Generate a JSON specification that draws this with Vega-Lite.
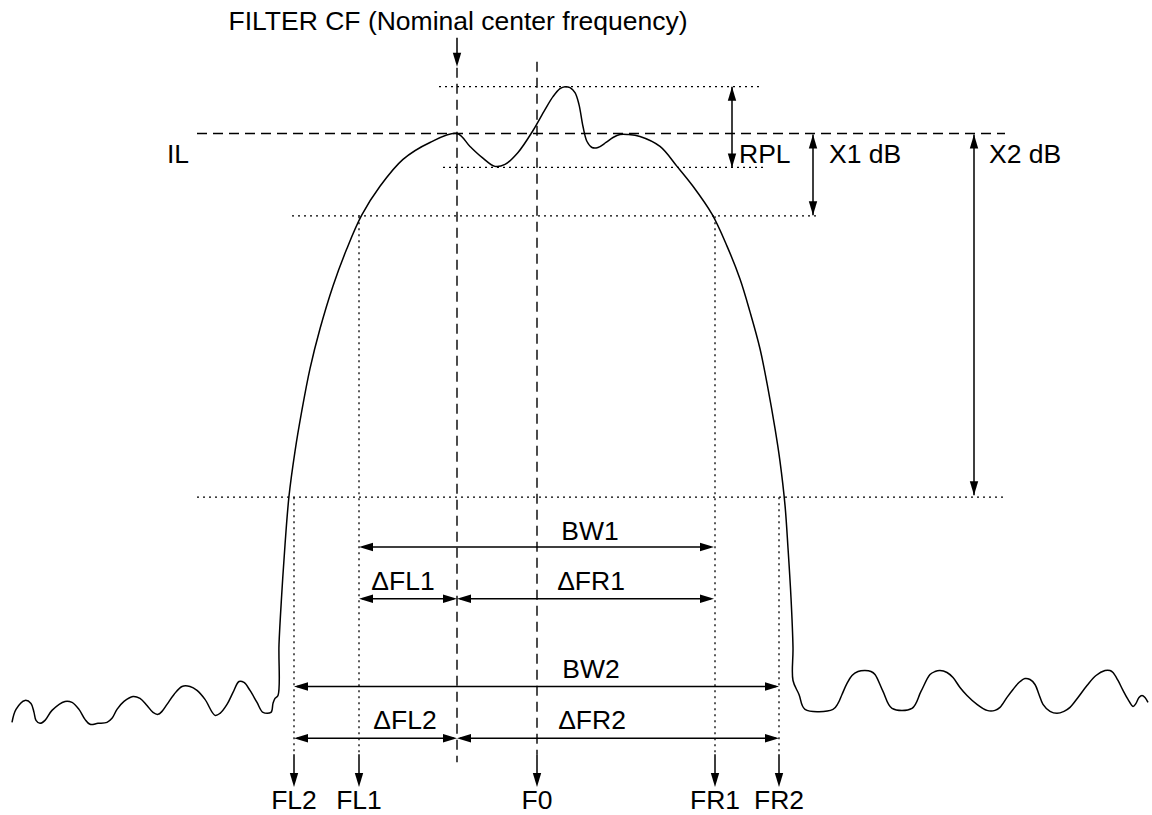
{
  "$schema": "https://vega.github.io/schema/vega-lite/v6.json",
  "width": 1152,
  "height": 815,
  "autosize": {"type": "fit", "contains": "padding"},
  "padding": 0,
  "background": "white",
  "config": {"view": {"stroke": null}, "text": {"font": "Liberation Sans", "color": "black"}},
  "datasets": {
    "curve": [
      {"i": 1, "x": 12, "y": 725}, {"i": 2, "x": 16, "y": 712}, {"i": 3, "x": 25, "y": 703}, {"i": 4, "x": 31, "y": 706},
      {"i": 5, "x": 34, "y": 715}, {"i": 6, "x": 36, "y": 723}, {"i": 7, "x": 40, "y": 726}, {"i": 8, "x": 45, "y": 723},
      {"i": 9, "x": 52, "y": 713}, {"i": 10, "x": 65, "y": 704}, {"i": 11, "x": 72, "y": 705}, {"i": 12, "x": 79, "y": 712},
      {"i": 13, "x": 85, "y": 722}, {"i": 14, "x": 90, "y": 727}, {"i": 15, "x": 98, "y": 726}, {"i": 16, "x": 107, "y": 725},
      {"i": 17, "x": 112, "y": 721}, {"i": 18, "x": 117, "y": 712}, {"i": 19, "x": 124, "y": 704}, {"i": 20, "x": 133, "y": 699},
      {"i": 21, "x": 140, "y": 701}, {"i": 22, "x": 147, "y": 708}, {"i": 23, "x": 153, "y": 715}, {"i": 24, "x": 158, "y": 717},
      {"i": 25, "x": 162, "y": 714}, {"i": 26, "x": 167, "y": 707}, {"i": 27, "x": 174, "y": 697}, {"i": 28, "x": 182, "y": 689},
      {"i": 29, "x": 190, "y": 689}, {"i": 30, "x": 197, "y": 693}, {"i": 31, "x": 205, "y": 702}, {"i": 32, "x": 215, "y": 718},
      {"i": 33, "x": 220, "y": 716}, {"i": 34, "x": 227, "y": 707}, {"i": 35, "x": 233, "y": 695}, {"i": 36, "x": 239, "y": 684},
      {"i": 37, "x": 244, "y": 685}, {"i": 38, "x": 250, "y": 693}, {"i": 39, "x": 257, "y": 705}, {"i": 40, "x": 263, "y": 715},
      {"i": 41, "x": 271, "y": 715}, {"i": 42, "x": 273, "y": 706}, {"i": 43, "x": 275, "y": 701}, {"i": 44, "x": 278, "y": 698},
      {"i": 45, "x": 279, "y": 647}, {"i": 46, "x": 281.7, "y": 597}, {"i": 47, "x": 285, "y": 547}, {"i": 48, "x": 289, "y": 498},
      {"i": 49, "x": 295, "y": 453}, {"i": 50, "x": 301.7, "y": 413}, {"i": 51, "x": 310, "y": 370}, {"i": 52, "x": 320, "y": 330},
      {"i": 53, "x": 333, "y": 287}, {"i": 54, "x": 346.7, "y": 250}, {"i": 55, "x": 361.7, "y": 216}, {"i": 56, "x": 380, "y": 187},
      {"i": 57, "x": 403, "y": 160}, {"i": 58, "x": 430, "y": 143}, {"i": 59, "x": 457, "y": 134},
      {"i": 60, "x": 470, "y": 147}, {"i": 61, "x": 482, "y": 158}, {"i": 62, "x": 495, "y": 167}, {"i": 63, "x": 505, "y": 165},
      {"i": 64, "x": 518, "y": 153}, {"i": 65, "x": 533, "y": 131}, {"i": 66, "x": 545, "y": 110}, {"i": 67, "x": 553, "y": 97},
      {"i": 68, "x": 560, "y": 89}, {"i": 69, "x": 565, "y": 87}, {"i": 70, "x": 570, "y": 88}, {"i": 71, "x": 575, "y": 93},
      {"i": 72, "x": 579, "y": 105}, {"i": 73, "x": 583, "y": 127}, {"i": 74, "x": 587, "y": 142}, {"i": 75, "x": 592, "y": 148},
      {"i": 76, "x": 598, "y": 148}, {"i": 77, "x": 606, "y": 143}, {"i": 78, "x": 613, "y": 138}, {"i": 79, "x": 620, "y": 135},
      {"i": 80, "x": 628, "y": 135}, {"i": 81, "x": 640, "y": 137}, {"i": 82, "x": 660, "y": 147}, {"i": 83, "x": 677, "y": 167},
      {"i": 84, "x": 693, "y": 187}, {"i": 85, "x": 712, "y": 215}, {"i": 86, "x": 727, "y": 247}, {"i": 87, "x": 740, "y": 280},
      {"i": 88, "x": 750, "y": 313}, {"i": 89, "x": 760, "y": 350}, {"i": 90, "x": 768, "y": 390}, {"i": 91, "x": 775, "y": 430},
      {"i": 92, "x": 780, "y": 463}, {"i": 93, "x": 785, "y": 507}, {"i": 94, "x": 788, "y": 550}, {"i": 95, "x": 791, "y": 600},
      {"i": 96, "x": 793, "y": 650}, {"i": 97, "x": 793, "y": 683}, {"i": 98, "x": 799, "y": 697}, {"i": 99, "x": 805, "y": 712},
      {"i": 100, "x": 833, "y": 712}, {"i": 101, "x": 838, "y": 706}, {"i": 102, "x": 842, "y": 697}, {"i": 103, "x": 847, "y": 686},
      {"i": 104, "x": 852, "y": 678}, {"i": 105, "x": 858, "y": 674}, {"i": 106, "x": 865, "y": 673}, {"i": 107, "x": 871, "y": 674},
      {"i": 108, "x": 875, "y": 677}, {"i": 109, "x": 883, "y": 694}, {"i": 110, "x": 892, "y": 711}, {"i": 111, "x": 912, "y": 711},
      {"i": 112, "x": 921, "y": 694}, {"i": 113, "x": 930, "y": 677}, {"i": 114, "x": 935, "y": 674}, {"i": 115, "x": 940, "y": 673},
      {"i": 116, "x": 947, "y": 675}, {"i": 117, "x": 953, "y": 680}, {"i": 118, "x": 960, "y": 690}, {"i": 119, "x": 967, "y": 698},
      {"i": 120, "x": 977, "y": 707}, {"i": 121, "x": 987, "y": 713}, {"i": 122, "x": 995, "y": 713}, {"i": 123, "x": 1000, "y": 710},
      {"i": 124, "x": 1007, "y": 700}, {"i": 125, "x": 1013, "y": 692}, {"i": 126, "x": 1019, "y": 685}, {"i": 127, "x": 1025, "y": 681},
      {"i": 128, "x": 1030, "y": 682}, {"i": 129, "x": 1035, "y": 687}, {"i": 130, "x": 1039, "y": 697}, {"i": 131, "x": 1043, "y": 707},
      {"i": 132, "x": 1050, "y": 714}, {"i": 133, "x": 1057, "y": 716}, {"i": 134, "x": 1064, "y": 714}, {"i": 135, "x": 1070, "y": 710},
      {"i": 136, "x": 1078, "y": 700}, {"i": 137, "x": 1087, "y": 688}, {"i": 138, "x": 1096, "y": 678}, {"i": 139, "x": 1105, "y": 673},
      {"i": 140, "x": 1110, "y": 673}, {"i": 141, "x": 1113, "y": 675}, {"i": 142, "x": 1118, "y": 683}, {"i": 143, "x": 1123, "y": 693},
      {"i": 144, "x": 1128, "y": 702}, {"i": 145, "x": 1133, "y": 709}, {"i": 146, "x": 1136, "y": 706}, {"i": 147, "x": 1139, "y": 700},
      {"i": 148, "x": 1142, "y": 698}, {"i": 149, "x": 1145, "y": 700}, {"i": 150, "x": 1148, "y": 705}
    ],
    "segments": [
      {"name": "IL level", "style": "dashed", "x": 197, "y": 134, "x2": 1005, "y2": 134},
      {"name": "FILTER CF", "style": "dashed", "x": 457, "y": 68, "x2": 457, "y2": 765},
      {"name": "F0", "style": "dashed", "x": 537, "y": 62, "x2": 537, "y2": 757},
      {"name": "ripple max", "style": "dotted", "x": 439, "y": 87, "x2": 760, "y2": 87},
      {"name": "ripple min", "style": "dotted", "x": 443, "y": 168, "x2": 763, "y2": 168},
      {"name": "X1 level", "style": "dotted", "x": 292, "y": 216.7, "x2": 820, "y2": 216.7},
      {"name": "X2 level", "style": "dotted", "x": 197, "y": 499, "x2": 1005, "y2": 499},
      {"name": "FL1", "style": "dotted", "x": 359, "y": 217, "x2": 359, "y2": 757},
      {"name": "FR1", "style": "dotted", "x": 715, "y": 217, "x2": 715, "y2": 757},
      {"name": "FL2", "style": "dotted", "x": 294, "y": 499, "x2": 294, "y2": 757},
      {"name": "FR2", "style": "dotted", "x": 779, "y": 499, "x2": 779, "y2": 757},
      {"name": "CF arrow", "style": "solid", "x": 457, "y": 38, "x2": 457, "y2": 60},
      {"name": "RPL", "style": "solid", "x": 732, "y": 87, "x2": 732, "y2": 168},
      {"name": "X1 dB", "style": "solid", "x": 813, "y": 135, "x2": 813, "y2": 216},
      {"name": "X2 dB", "style": "solid", "x": 974, "y": 135, "x2": 974, "y2": 497},
      {"name": "BW1", "style": "solid", "x": 362, "y": 549, "x2": 711, "y2": 549},
      {"name": "dFL1", "style": "solid", "x": 362, "y": 601, "x2": 454, "y2": 601},
      {"name": "dFR1", "style": "solid", "x": 460, "y": 601, "x2": 711, "y2": 601},
      {"name": "BW2", "style": "solid", "x": 297, "y": 689, "x2": 776, "y2": 689},
      {"name": "dFL2", "style": "solid", "x": 297, "y": 741, "x2": 454, "y2": 741},
      {"name": "dFR2", "style": "solid", "x": 460, "y": 741, "x2": 776, "y2": 741},
      {"name": "FL2 mark", "style": "solid", "x": 294, "y": 757, "x2": 294, "y2": 784},
      {"name": "FL1 mark", "style": "solid", "x": 359, "y": 757, "x2": 359, "y2": 784},
      {"name": "F0 mark", "style": "solid", "x": 537, "y": 757, "x2": 537, "y2": 784},
      {"name": "FR1 mark", "style": "solid", "x": 715, "y": 757, "x2": 715, "y2": 784},
      {"name": "FR2 mark", "style": "solid", "x": 779, "y": 757, "x2": 779, "y2": 784}
    ],
    "heads": [
      {"x": 457, "y": 67, "dir": "down"},
      {"x": 732, "y": 87, "dir": "up"}, {"x": 732, "y": 168, "dir": "down"},
      {"x": 813, "y": 135, "dir": "up"}, {"x": 813, "y": 216, "dir": "down"},
      {"x": 974, "y": 135, "dir": "up"}, {"x": 974, "y": 497, "dir": "down"},
      {"x": 359, "y": 549, "dir": "left"}, {"x": 714, "y": 549, "dir": "right"},
      {"x": 359, "y": 601, "dir": "left"}, {"x": 457, "y": 601, "dir": "right"},
      {"x": 457, "y": 601, "dir": "left"}, {"x": 714, "y": 601, "dir": "right"},
      {"x": 294, "y": 689, "dir": "left"}, {"x": 779, "y": 689, "dir": "right"},
      {"x": 294, "y": 741, "dir": "left"}, {"x": 457, "y": 741, "dir": "right"},
      {"x": 457, "y": 741, "dir": "left"}, {"x": 779, "y": 741, "dir": "right"},
      {"x": 294, "y": 790, "dir": "down"}, {"x": 359, "y": 790, "dir": "down"},
      {"x": 537, "y": 790, "dir": "down"}, {"x": 715, "y": 790, "dir": "down"},
      {"x": 779, "y": 790, "dir": "down"}
    ],
    "labels": [
      {"text": "IL", "x": 167, "y": 164, "anchor": "left"},
      {"text": "RPL", "x": 739, "y": 164, "anchor": "left"},
      {"text": "X1 dB", "x": 829, "y": 164, "anchor": "left"},
      {"text": "X2 dB", "x": 989, "y": 164, "anchor": "left"},
      {"text": "BW1", "x": 590, "y": 542, "anchor": "center"},
      {"text": "ΔFL1", "x": 403, "y": 592, "anchor": "center"},
      {"text": "ΔFR1", "x": 591, "y": 592, "anchor": "center"},
      {"text": "BW2", "x": 591, "y": 681, "anchor": "center"},
      {"text": "ΔFL2", "x": 405, "y": 732, "anchor": "center"},
      {"text": "ΔFR2", "x": 592, "y": 732, "anchor": "center"},
      {"text": "FL2", "x": 294, "y": 812, "anchor": "center"},
      {"text": "FL1", "x": 359, "y": 812, "anchor": "center"},
      {"text": "F0", "x": 537, "y": 812, "anchor": "center"},
      {"text": "FR1", "x": 715, "y": 812, "anchor": "center"},
      {"text": "FR2", "x": 779, "y": 812, "anchor": "center"},
      {"text": "FILTER CF (Nominal center frequency)", "x": 458, "y": 30, "anchor": "title"}
    ]
  },
  "layer": [
    {
      "data": {"name": "segments"},
      "mark": {"type": "rule", "color": "black", "strokeCap": "butt"},
      "encoding": {
        "x": {"field": "x", "type": "quantitative", "scale": {"domain": [0, 1152], "nice": false, "zero": false}, "axis": null},
        "y": {"field": "y", "type": "quantitative", "scale": {"domain": [0, 815], "nice": false, "zero": false, "reverse": true}, "axis": null},
        "x2": {"field": "x2"},
        "y2": {"field": "y2"},
        "strokeDash": {"field": "style", "type": "nominal", "scale": {"domain": ["solid", "dashed", "dotted"], "range": [[1, 0], [10, 6], [2, 4]]}, "legend": null},
        "strokeWidth": {"field": "style", "type": "nominal", "scale": {"domain": ["solid", "dashed", "dotted"], "range": [1.5, 1.3, 1.6]}, "legend": null}
      }
    },
    {
      "data": {"name": "curve"},
      "mark": {"type": "line", "color": "black", "strokeWidth": 1.5, "interpolate": "catmull-rom"},
      "encoding": {
        "x": {"field": "x", "type": "quantitative", "scale": {"domain": [0, 1152], "nice": false, "zero": false}, "axis": null},
        "y": {"field": "y", "type": "quantitative", "scale": {"domain": [0, 815], "nice": false, "zero": false, "reverse": true}, "axis": null},
        "order": {"field": "i", "type": "quantitative"}
      }
    },
    {
      "data": {"name": "heads"},
      "mark": {"type": "point", "filled": true, "color": "black", "size": 196, "opacity": 1, "strokeWidth": 0},
      "encoding": {
        "x": {"field": "x", "type": "quantitative", "scale": {"domain": [0, 1152], "nice": false, "zero": false}, "axis": null},
        "y": {"field": "y", "type": "quantitative", "scale": {"domain": [0, 815], "nice": false, "zero": false, "reverse": true}, "axis": null},
        "shape": {"field": "dir", "type": "nominal", "scale": {"domain": ["right", "left", "down", "up"], "range": ["M0,0L-2,-0.6L-2,0.6Z", "M0,0L2,-0.6L2,0.6Z", "M0,0L-0.6,-2L0.6,-2Z", "M0,0L-0.6,2L0.6,2Z"]}, "legend": null}
      }
    },
    {
      "data": {"name": "labels"},
      "transform": [{"filter": "datum.anchor === 'left'"}],
      "mark": {"type": "text", "align": "left", "baseline": "alphabetic", "fontSize": 26.5},
      "encoding": {
        "x": {"field": "x", "type": "quantitative", "scale": {"domain": [0, 1152], "nice": false, "zero": false}, "axis": null},
        "y": {"field": "y", "type": "quantitative", "scale": {"domain": [0, 815], "nice": false, "zero": false, "reverse": true}, "axis": null},
        "text": {"field": "text"}
      }
    },
    {
      "data": {"name": "labels"},
      "transform": [{"filter": "datum.anchor === 'center'"}],
      "mark": {"type": "text", "align": "center", "baseline": "alphabetic", "fontSize": 26.5},
      "encoding": {
        "x": {"field": "x", "type": "quantitative", "scale": {"domain": [0, 1152], "nice": false, "zero": false}, "axis": null},
        "y": {"field": "y", "type": "quantitative", "scale": {"domain": [0, 815], "nice": false, "zero": false, "reverse": true}, "axis": null},
        "text": {"field": "text"}
      }
    },
    {
      "data": {"name": "labels"},
      "transform": [{"filter": "datum.anchor === 'title'"}],
      "mark": {"type": "text", "align": "center", "baseline": "alphabetic", "fontSize": 26.5},
      "encoding": {
        "x": {"field": "x", "type": "quantitative", "scale": {"domain": [0, 1152], "nice": false, "zero": false}, "axis": null},
        "y": {"field": "y", "type": "quantitative", "scale": {"domain": [0, 815], "nice": false, "zero": false, "reverse": true}, "axis": null},
        "text": {"field": "text"}
      }
    }
  ]
}
